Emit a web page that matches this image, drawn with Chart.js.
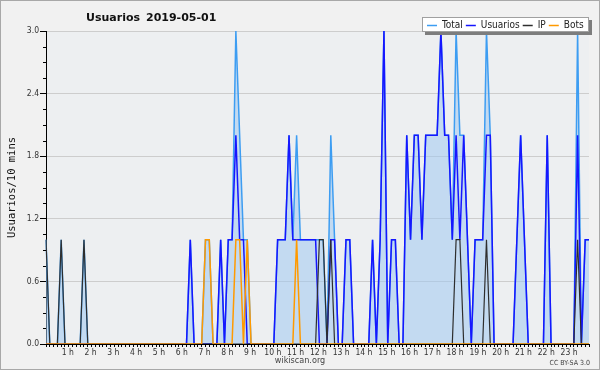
<!DOCTYPE html>
<html>
<head>
<meta charset="utf-8">
<script src="https://cdn.jsdelivr.net/npm/chart.js@4/dist/chart.umd.min.js"></script>
<style>
  html, body { margin: 0; padding: 0; background: #f1f1f1; }
  #wrap { width: 600px; height: 370px; position: relative; }
  canvas { display: block; }
</style>
</head>
<body>
<div id="wrap"><canvas id="c" width="600" height="370"></canvas></div>
<script>
// ---- data (10-minute buckets) ----
const categories = [];
for (let h = 0; h < 24; h++) {
  for (let m = 0; m < 60; m += 10) {
    categories.push(String(h).padStart(2, '0') + ':' + String(m).padStart(2, '0'));
  }
}
const hourLabels = ['1 h','2 h','3 h','4 h','5 h','6 h','7 h','8 h','9 h','10 h','11 h','12 h',
  '13 h','14 h','15 h','16 h','17 h','18 h','19 h','20 h','21 h','22 h','23 h'];
const yMajorTicks = [0, 0.6, 1.2, 1.8, 2.4, 3.0];

const totalValues = [
  1,0,0,0,1,0,0,0,0,0,1,0,
  0,0,0,0,0,0,0,0,0,0,0,0,
  0,0,0,0,0,0,0,0,0,0,0,0,
  0,0,1,0,0,0,1,1,0,0,1,0,
  1,1,3,2,1,1,0,0,0,0,0,0,
  0,1,1,1,2,1,2,1,1,1,1,1,
  1,1,0,2,1,0,0,1,1,0,0,0,
  0,0,1,0,1,3,0,1,1,0,0,2,
  1,2,2,1,2,2,2,2,3,2,2,1,
  3,2,2,1,0,1,1,1,3,2,0,0,
  0,0,0,0,1,2,1,0,0,0,0,0,
  2,0,0,0,0,0,0,0,3,0,1,1
];
const usuariosValues = [
  0,0,0,0,0,0,0,0,0,0,0,0,
  0,0,0,0,0,0,0,0,0,0,0,0,
  0,0,0,0,0,0,0,0,0,0,0,0,
  0,0,1,0,0,0,0,0,0,0,1,0,
  1,1,2,1,1,0,0,0,0,0,0,0,
  0,1,1,1,2,1,1,1,1,1,1,1,
  0,0,0,1,1,0,0,1,1,0,0,0,
  0,0,1,0,1,3,0,1,1,0,0,2,
  1,2,2,1,2,2,2,2,3,2,2,1,
  2,1,2,1,0,1,1,1,2,2,0,0,
  0,0,0,0,1,2,1,0,0,0,0,0,
  2,0,0,0,0,0,0,0,2,0,1,1
];
const ipValues = [
  1,0,0,0,1,0,0,0,0,0,1,0,
  0,0,0,0,0,0,0,0,0,0,0,0,
  0,0,0,0,0,0,0,0,0,0,0,0,
  0,0,0,0,0,0,0,0,0,0,0,0,
  0,0,0,0,0,0,0,0,0,0,0,0,
  0,0,0,0,0,0,0,0,0,0,0,0,
  1,1,0,1,0,0,0,0,0,0,0,0,
  0,0,0,0,0,0,0,0,0,0,0,0,
  0,0,0,0,0,0,0,0,0,0,0,0,
  1,1,0,0,0,0,0,0,1,0,0,0,
  0,0,0,0,0,0,0,0,0,0,0,0,
  0,0,0,0,0,0,0,0,1,0,0,0
];
const botsValues = [
  0,0,0,0,0,0,0,0,0,0,0,0,
  0,0,0,0,0,0,0,0,0,0,0,0,
  0,0,0,0,0,0,0,0,0,0,0,0,
  0,0,0,0,0,0,1,1,0,0,0,0,
  0,0,1,1,0,1,0,0,0,0,0,0,
  0,0,0,0,0,0,1,0,0,0,0,0,
  0,0,0,0,0,0,0,0,0,0,0,0,
  0,0,0,0,0,0,0,0,0,0,0,0,
  0,0,0,0,0,0,0,0,0,0,0,0,
  0,0,0,0,0,0,0,0,0,0,0,0,
  0,0,0,0,0,0,0,0,0,0,0,0,
  0,0,0,0,0,0,0,0,0,0,0,0
];

// ---- style ----
const FONT = '"DejaVu Sans Condensed", "DejaVu Sans", sans-serif';
const OUTER_BG = '#f1f1f1';
const PLOT_BG = '#edeff1';

function isMajor(v) {
  return yMajorTicks.some(t => Math.abs(t - v) < 1e-6);
}

const decorPlugin = {
  id: 'decor',
  beforeDraw(chart) {
    const ctx = chart.ctx, a = chart.chartArea;
    ctx.save();
    ctx.fillStyle = OUTER_BG;
    ctx.fillRect(0, 0, chart.width, chart.height);
    ctx.fillStyle = PLOT_BG;
    ctx.fillRect(a.left, a.top, a.right - a.left, a.bottom - a.top);
    ctx.restore();
  },
  afterDraw(chart) {
    const ctx = chart.ctx, a = chart.chartArea;
    const ys = chart.scales.y;
    ctx.save();
    // minor y ticks
    ctx.strokeStyle = '#000';
    ctx.lineWidth = 1;
    for (let v = 0; v <= 3.0001; v += 0.15) {
      if (isMajor(v)) continue;
      const y = Math.round(ys.getPixelForValue(v)) + 0.5;
      ctx.beginPath();
      ctx.moveTo(a.left - 3, y);
      ctx.lineTo(a.left, y);
      ctx.stroke();
    }
    // title
    ctx.fillStyle = '#111';
    ctx.font = 'bold 11px "DejaVu Sans", sans-serif';
    ctx.textBaseline = 'alphabetic';
    ctx.textAlign = 'left';
    ctx.fillText('Usuarios', 86, 21);
    ctx.fillText('2019-05-01', 146, 21);
    // y axis title
    ctx.save();
    ctx.translate(12, (a.top + a.bottom) / 2);
    ctx.rotate(-Math.PI / 2);
    ctx.font = '10.5px "DejaVu Sans Mono", monospace';
    ctx.textAlign = 'center';
    ctx.textBaseline = 'middle';
    ctx.fillStyle = '#111';
    ctx.fillText('Usuarios/10 mins', 0, 0);
    ctx.restore();
    // footer texts
    ctx.font = '9px ' + FONT;
    ctx.fillStyle = '#444';
    ctx.textAlign = 'center';
    ctx.textBaseline = 'middle';
    ctx.fillText('wikiscan.org', 300, 361);
    ctx.font = '7px ' + FONT;
    ctx.textAlign = 'right';
    ctx.fillText('CC BY-SA 3.0', 590, 363);
    // legend
    const lx = 422, ly = 17, lw = 167, lh = 15;
    ctx.fillStyle = '#7d7d7d';
    ctx.fillRect(lx + 3, ly + 3, lw, lh);
    ctx.fillStyle = '#ffffff';
    ctx.fillRect(lx, ly, lw, lh);
    ctx.strokeStyle = '#a0a0a0';
    ctx.lineWidth = 1;
    ctx.strokeRect(lx + 0.5, ly + 0.5, lw - 1, lh - 1);
    ctx.font = '10px ' + FONT;
    ctx.textAlign = 'left';
    ctx.textBaseline = 'middle';
    let x = lx + 5;
    const cy = ly + lh / 2 + 0.5;
    chart.data.datasets.forEach(ds => {
      ctx.strokeStyle = ds.borderColor;
      ctx.lineWidth = 1.5;
      ctx.beginPath();
      ctx.moveTo(x, Math.round(cy) + 0.5);
      ctx.lineTo(x + 10, Math.round(cy) + 0.5);
      ctx.stroke();
      x += 15;
      ctx.fillStyle = '#222';
      ctx.fillText(ds.label, x, cy);
      x += ctx.measureText(ds.label).width + 3;
    });
    // outer frame
    ctx.strokeStyle = '#a8a8a8';
    ctx.lineWidth = 1;
    ctx.strokeRect(0.5, 0.5, chart.width - 1, chart.height - 1);
    ctx.restore();
  }
};

const common = { pointRadius: 0, pointHoverRadius: 0, tension: 0, fill: false };

new Chart(document.getElementById('c'), {
  type: 'line',
  data: {
    labels: categories,
    datasets: [
      Object.assign({}, common, { label: 'Total', data: totalValues, borderColor: '#3d9df2',
        borderWidth: 1.5, fill: 'origin', backgroundColor: 'rgba(160,200,240,0.55)', order: 4 }),
      Object.assign({}, common, { label: 'Usuarios', data: usuariosValues, borderColor: '#1616ff',
        borderWidth: 1.5, order: 3 }),
      Object.assign({}, common, { label: 'IP', data: ipValues, borderColor: '#2e2e2e',
        borderWidth: 1.2, order: 2 }),
      Object.assign({}, common, { label: 'Bots', data: botsValues, borderColor: '#ff9a00',
        borderWidth: 1.5, order: 1 })
    ]
  },
  options: {
    responsive: false,
    animation: false,
    devicePixelRatio: 1,
    layout: { padding: { top: 31, right: 11, left: 0, bottom: 0 } },
    plugins: { legend: { display: false }, title: { display: false }, tooltip: { enabled: false } },
    events: [],
    scales: {
      x: {
        type: 'category',
        offset: false,
        afterFit(scale) { scale.height = 26; },
        grid: { display: true, drawOnChartArea: false, drawTicks: true, tickLength: 3,
                tickColor: '#000', color: 'transparent' },
        border: { display: true, color: '#000', width: 1 },
        ticks: {
          autoSkip: false, maxRotation: 0, minRotation: 0, padding: 1, labelOffset: -1,
          color: '#333', font: { family: FONT, size: 8.5 },
          callback(value, index) {
            if (index > 0 && index % 6 === 0) return hourLabels[index / 6 - 1];
            return '';
          }
        }
      },
      y: {
        type: 'linear',
        min: 0, max: 3,
        afterFit(scale) { scale.width = 46; },
        grid: {
          drawTicks: true, tickLength: 6,
          color: ctx => (ctx.tick && isMajor(ctx.tick.value) && ctx.tick.value > 0) ? '#cdcdcd' : 'transparent',
          tickColor: ctx => (ctx.tick && isMajor(ctx.tick.value)) ? '#000' : 'transparent'
        },
        border: { display: true, color: '#000', width: 1 },
        ticks: {
          stepSize: 0.15, autoSkip: false, padding: 1,
          color: '#333', font: { family: FONT, size: 8.5 },
          callback(value) { return isMajor(value) ? value.toFixed(1) : ''; }
        }
      }
    }
  },
  plugins: [decorPlugin]
});
</script>
</body>
</html>
